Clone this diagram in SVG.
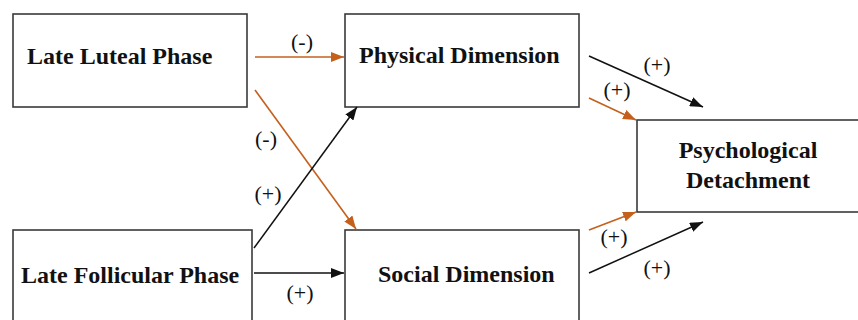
<svg xmlns="http://www.w3.org/2000/svg" width="858" height="320" viewBox="0 0 858 320">
<style>
.box{fill:#fff;stroke:#3a3a3a;stroke-width:1.6}
.t{font-family:"Liberation Serif","Times New Roman",serif;font-weight:bold;font-size:24px;fill:#111}
.l{font-family:"Liberation Serif","Times New Roman",serif;font-size:22px;fill:#111;text-anchor:middle}
.k{stroke:#111;stroke-width:1.5;fill:none;marker-end:url(#ak)}
.o{stroke:#C4601C;stroke-width:1.6;fill:none;marker-end:url(#ao)}
</style>
<defs>
<marker id="ak" viewBox="0 0 13 10" refX="13" refY="5" markerWidth="13" markerHeight="10" markerUnits="userSpaceOnUse" orient="auto"><path d="M0,0 L13,5 L0,10 Z" fill="#111"/></marker>
<marker id="ao" viewBox="0 0 13 10" refX="13" refY="5" markerWidth="13" markerHeight="10" markerUnits="userSpaceOnUse" orient="auto"><path d="M0,0 L13,5 L0,10 Z" fill="#C4601C"/></marker>
</defs>
<rect width="858" height="320" fill="#fff"/>
<g id="late-luteal"><rect class="box" x="13" y="14" width="234" height="93"/><text class="t" x="27" y="64">Late Luteal Phase</text></g>
<g id="physical"><rect class="box" x="345" y="14" width="234" height="93"/><text class="t" x="359" y="63">Physical Dimension</text></g>
<g id="psych"><rect class="box" x="637" y="120" width="240" height="92"/><text class="t" x="748" y="158" text-anchor="middle">Psychological</text><text class="t" x="748" y="188" text-anchor="middle">Detachment</text></g>
<g id="late-follicular"><rect class="box" x="13" y="230" width="239" height="110"/><text class="t" x="21" y="283">Late Follicular Phase</text></g>
<g id="social"><rect class="box" x="345" y="230" width="234" height="110"/><text class="t" x="378" y="282">Social Dimension</text></g>
<g id="connectors">
<line class="o" x1="255" y1="57" x2="344" y2="57"/>
<line class="o" x1="255" y1="90" x2="356" y2="229"/>
<line class="k" x1="254" y1="248" x2="357" y2="107"/>
<line class="k" x1="254" y1="273" x2="344" y2="273"/>
<line class="k" x1="589" y1="56" x2="703" y2="107"/>
<line class="o" x1="589" y1="98" x2="636" y2="120"/>
<line class="o" x1="589" y1="230" x2="636" y2="212"/>
<line class="k" x1="589" y1="273" x2="703" y2="222"/>
<text class="l" x="302" y="49">(-)</text>
<text class="l" x="266" y="146">(-)</text>
<text class="l" x="268" y="201">(+)</text>
<text class="l" x="300" y="300">(+)</text>
<text class="l" x="657" y="72">(+)</text>
<text class="l" x="617" y="97">(+)</text>
<text class="l" x="614" y="244">(+)</text>
<text class="l" x="657" y="275">(+)</text>
</g>
</svg>
